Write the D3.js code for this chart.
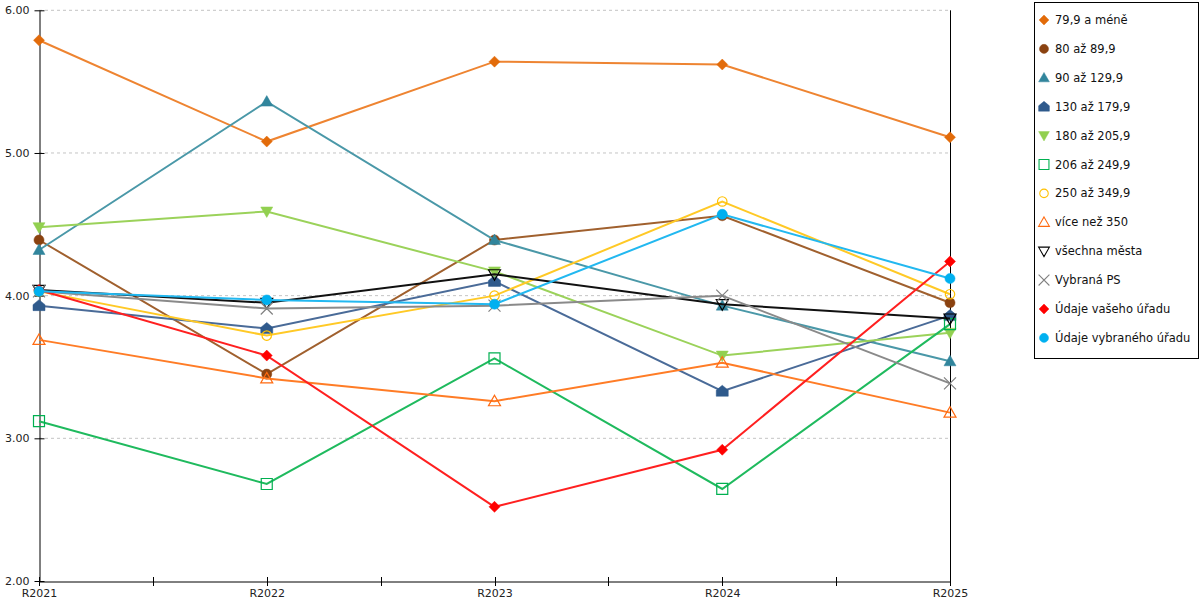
<!DOCTYPE html>
<html><head><meta charset="utf-8">
<script src="https://cdn.jsdelivr.net/npm/d3@7"></script>
<style>body{margin:0;background:#fff;} svg{display:block;font-family:"DejaVu Sans",Verdana,sans-serif;}</style>
</head><body>
<svg id="c" width="1200" height="600"></svg>
<script>
const categories = ["R2021","R2022","R2023","R2024","R2025"];
const yTicks = [2,3,4,5,6];
const seriesNames = ["79,9 a méně","80 až 89,9","90 až 129,9","130 až 179,9","180 až 205,9","206 až 249,9","250 až 349,9","více než 350","všechna města","Vybraná PS","Údaje vašeho úřadu","Údaje vybraného úřadu"];
const s1 = [5.79,5.08,5.64,5.62,5.11];
const s2 = [4.39,3.45,4.39,4.56,3.95];
const s3 = [4.32,5.36,4.39,3.93,3.54];
const s4 = [3.93,3.77,4.10,3.33,3.86];
const s5 = [4.48,4.59,4.17,3.58,3.74];
const s6 = [3.12,2.68,3.56,2.645,3.80];
const s7 = [4.03,3.72,4.00,4.66,4.01];
const s8 = [3.69,3.42,3.26,3.53,3.18];
const s9 = [4.04,3.95,4.15,3.94,3.84];
const s10 = [4.03,3.91,3.93,4.00,3.385];
const s11 = [4.04,3.58,2.52,2.92,4.24];
const s12 = [4.03,3.97,3.94,4.57,4.12];
const seriesValues = [s1,s2,s3,s4,s5,s6,s7,s8,s9,s10,s11,s12];

// styles
const lineColors = ["#ee8431","#a0602e","#4a98a8","#4a6b98","#9bd25a","#1fba5e","#ffc926","#ff7c26","#111111","#8a8a8a","#ff2020","#22b8f0"];
const markColors = ["#e26b0a","#8a4210","#31859c","#2f5a8c","#92d050","#00b050","#ffc000","#ff6a10","#000000","#808080","#ff0000","#00b0f0"];
const markTypes = ["diamond","circle","triangle","house","down","square","ocircle","otriangle","odown","x","diamond","circle"];

const svg = d3.select("#c");
const x = d3.scalePoint().domain(categories).range([39,950]);
const y = d3.scaleLinear().domain([2,6]).range([581,10.3]);

// grid
svg.append("g").selectAll("line").data(yTicks.filter(t=>t>2)).join("line")
  .attr("x1",39).attr("x2",950).attr("y1",d=>y(d)).attr("y2",d=>y(d))
  .attr("stroke","#c4c4c4").attr("stroke-dasharray","3,3").attr("stroke-width",1);

// right line
svg.append("line").attr("x1",950.5).attr("x2",950.5).attr("y1",y(6)).attr("y2",y(2)).attr("stroke","#000");

// y axis
const ya = svg.append("g").attr("transform","translate(39.5,0)")
  .call(d3.axisLeft(y).tickValues(yTicks).tickFormat(d3.format(".2f")).tickSize(5).tickSizeOuter(0));
ya.select(".domain").attr("stroke","#000");
ya.selectAll(".tick line").attr("x2",5).attr("x1",-5);
ya.selectAll(".tick text").attr("x",-10).attr("font-size",11).attr("fill","#222").attr("font-family","DejaVu Sans, Verdana, sans-serif");

// x axis
const xa = svg.append("g").attr("transform","translate(0,581.5)")
  .call(d3.axisBottom(x).tickSize(0).tickSizeOuter(0));
xa.select(".domain").attr("stroke","#000");
xa.selectAll(".tick text").attr("y",8).attr("font-size",11).attr("fill","#222").attr("font-family","DejaVu Sans, Verdana, sans-serif");
const tickPos = [];
categories.forEach((c,i)=>{ tickPos.push(x(c)); if(i<categories.length-1) tickPos.push((x(c)+x(categories[i+1]))/2); });
svg.append("g").selectAll("line").data(tickPos).join("line")
  .attr("x1",d=>Math.round(d)+0.5).attr("x2",d=>Math.round(d)+0.5).attr("y1",577).attr("y2",586).attr("stroke","#000");

function shape(type){
  switch(type){
    case "diamond": return "M0,-5.5L5.5,0L0,5.5L-5.5,0Z";
    case "circle": return d3.symbol(d3.symbolCircle,80)();
    case "ocircle": return d3.symbol(d3.symbolCircle,70)();
    case "triangle": return "M0,-6L6,4.5L-6,4.5Z";
    case "otriangle": return "M0,-6L6,4.5L-6,4.5Z";
    case "house": return "M0,-6L6,-1L6,5L-6,5L-6,-1Z";
    case "down": return "M-6,-4.5L6,-4.5L0,6Z";
    case "odown": return "M-6,-4.5L6,-4.5L0,6Z";
    case "square": return "M-5.5,-5.5L5.5,-5.5L5.5,5.5L-5.5,5.5Z";
    case "x": return "M-6,-6L6,6M6,-6L-6,6";
  }
}
const filled = t => ["diamond","circle","triangle","house","down"].includes(t);

const line = d3.line().x((d,i)=>x(categories[i])).y(d=>y(d));
seriesValues.forEach((vals,si)=>{
  const g = svg.append("g");
  g.append("path").attr("d",line(vals)).attr("fill","none").attr("stroke",lineColors[si]).attr("stroke-width",2);
  const t = markTypes[si];
  g.selectAll("path.m").data(vals).join("path").attr("class","m")
    .attr("transform",(d,i)=>`translate(${x(categories[i])},${y(d)})`)
    .attr("d",shape(t))
    .attr("fill",filled(t)?markColors[si]:(t==="x"?"none":"#fff"))
    .attr("fill-opacity",filled(t)?1:0)
    .attr("stroke",markColors[si]).attr("stroke-width",filled(t)?0.5:1.2);
});

// legend
const lg = svg.append("g");
lg.append("rect").attr("x",1034.5).attr("y",2.5).attr("width",164).attr("height",356).attr("fill","#fff").attr("stroke","#000");
seriesNames.forEach((n,i)=>{
  const yy = 20 + i*28.9;
  const t = markTypes[i];
  lg.append("path").attr("transform",`translate(1044,${yy}) scale(0.9)`).attr("d",shape(t))
    .attr("fill",filled(t)?markColors[i]:"#fff").attr("fill-opacity",filled(t)?1:0)
    .attr("stroke",markColors[i]).attr("stroke-width",filled(t)?0.5:1.2);
  lg.append("text").attr("x",1055).attr("y",yy).attr("dy","0.35em").attr("font-size",11.5).attr("fill","#111").text(n);
});
</script>
</body></html>
